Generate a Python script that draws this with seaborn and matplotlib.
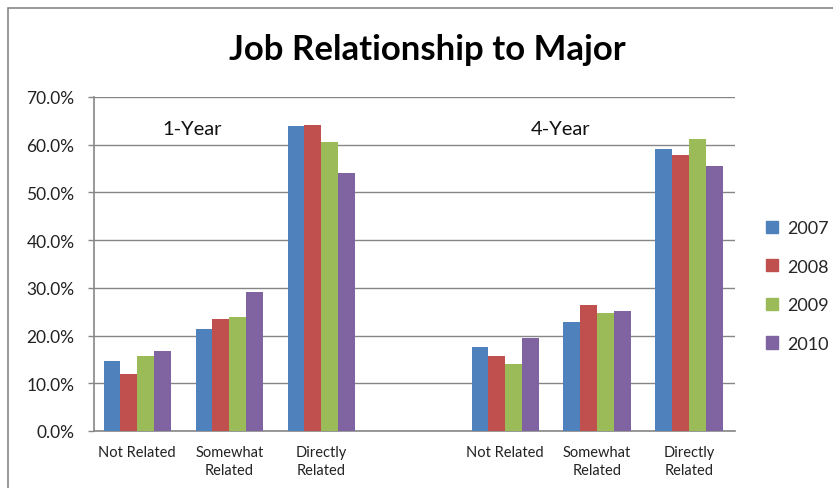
import matplotlib
matplotlib.use("Agg")
import matplotlib.pyplot as plt
import matplotlib.patches as mpatches
from matplotlib.ticker import FuncFormatter, MultipleLocator
import seaborn as sns
import pandas as pd

# ---- data ----
slots = ["1-NR", "1-SR", "1-DR", "gap", "4-NR", "4-SR", "4-DR"]
slot_labels = ["Not Related", "Somewhat\nRelated", "Directly\nRelated", "",
               "Not Related", "Somewhat\nRelated", "Directly\nRelated"]
data_slots = ["1-NR", "1-SR", "1-DR", "4-NR", "4-SR", "4-DR"]
years = ["2007", "2008", "2009", "2010"]
v2007 = [14.6, 21.4, 63.9, 17.7, 22.8, 59.1]
v2008 = [11.9, 23.4, 64.2, 15.7, 26.4, 57.8]
v2009 = [15.7, 23.8, 60.5, 14.0, 24.8, 61.2]
v2010 = [16.7, 29.2, 54.1, 19.4, 25.2, 55.5]
group_labels = ["1-Year", "4-Year"]

rows = []
for yr, vals in zip(years, [v2007, v2008, v2009, v2010]):
    for s, v in zip(data_slots, vals):
        rows.append({"slot": s, "year": yr, "value": v})
df = pd.DataFrame(rows)

sns.set_theme(style="white")
plt.rcParams["font.family"] = ["Lato", "DejaVu Sans"]

W, H = 833, 489
fig = plt.figure(figsize=(W / 100, H / 100), dpi=100)
L, R, T, B = 94, 735, 98, 432
ax = fig.add_axes([L / W, 1 - B / H, (R - L) / W, (B - T) / H])

palette = ["#4F81BD", "#C0504D", "#9BBB59", "#8064A2"]
sns.barplot(data=df, x="slot", y="value", hue="year", order=slots,
            hue_order=years, palette=palette, width=0.73, saturation=1,
            ax=ax, zorder=3, linewidth=0)

ax.set_ylim(0, 70)
ax.yaxis.set_major_locator(MultipleLocator(10))
ax.yaxis.set_major_formatter(FuncFormatter(lambda x, p: f"{x:.1f}%"))
ax.grid(axis="y", color="#868686", linewidth=1.0, zorder=0)
ax.set_axisbelow(True)
ax.set_xlim(-0.47, len(slots) - 0.5)
ax.set_xticks(range(len(slots)))
ax.set_xticklabels(slot_labels, fontsize=10.5, color="#222222", linespacing=1.35)
ax.tick_params(axis="x", length=0, pad=10)
ax.tick_params(axis="y", labelsize=12.5, colors="#222222", length=4, width=1,
               direction="out", left=True, pad=10)
ax.tick_params(axis="y", color="#868686")
ax.set_xlabel("")
ax.set_ylabel("")
for side in ["top", "right"]:
    ax.spines[side].set_visible(False)
for side in ["left", "bottom"]:
    ax.spines[side].set_color("#868686")
    ax.spines[side].set_linewidth(1.2)

ax.text(0.6, 63.3, group_labels[0], fontsize=14.5, ha="center", va="center", color="#111111")
ax.text(4.6, 63.3, group_labels[1], fontsize=14.5, ha="center", va="center", color="#111111")

fig.text(427 / W, 1 - 50 / H, "Job Relationship to Major", fontsize=25,
         fontweight="bold", ha="center", va="center", color="black")

handles = [mpatches.Patch(color=c, label=y) for c, y in zip(palette, years)]
if ax.legend_:
    ax.legend_.remove()
fig.legend(handles=handles, loc="center left", bbox_to_anchor=(766 / W, 1 - 287 / H),
           frameon=False, fontsize=13, handlelength=0.65, handleheight=0.65,
           handletextpad=0.5, labelspacing=1.25, borderpad=0, borderaxespad=0)

# outer chart border
fig.patches.append(mpatches.Rectangle((8 / W, -0.1), 1.1, 1 - 9 / H + 0.1,
                                      transform=fig.transFigure, fill=False,
                                      edgecolor="#868686", linewidth=1.2))

fig.savefig("out.png", dpi=100)
